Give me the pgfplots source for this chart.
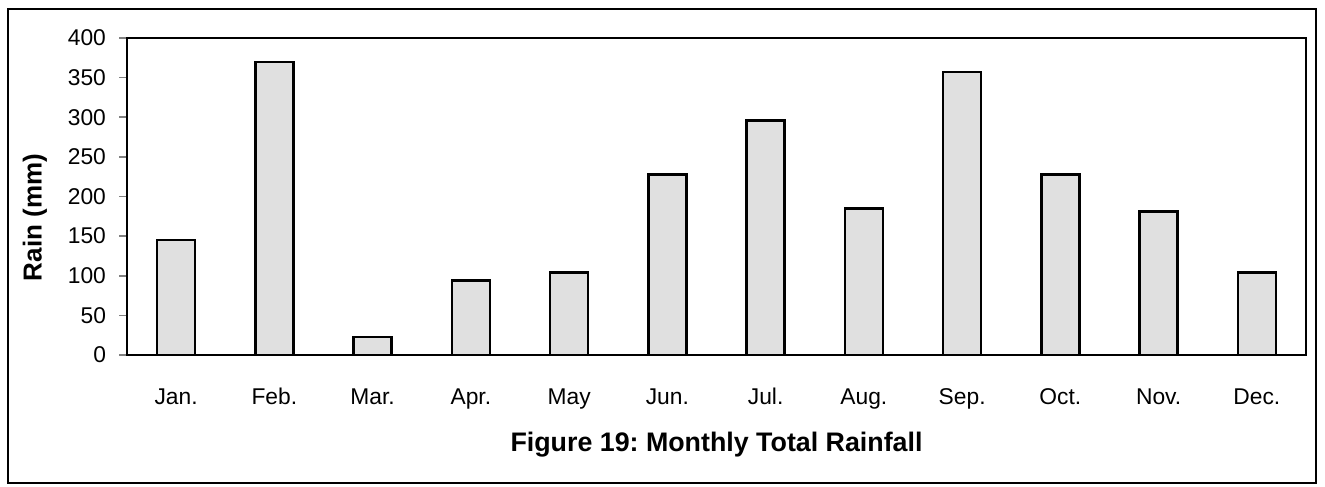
\documentclass[border=0pt]{standalone}
\usepackage{pgfplots}
\pgfplotsset{compat=1.18}
\usepackage{fontspec}
\setmainfont{Liberation Sans}
\definecolor{barfill}{HTML}{E0E0E0}
\begin{document}
\frenchspacing
\begin{tikzpicture}
\begin{axis}[
  name=ax,
  scale only axis,
  width=589.5pt, height=158.5pt,
  xmin=-0.5, xmax=11.5,
  ymin=0, ymax=400,
  ytick={0,50,...,400},
  xtick={0,...,11},
  xticklabels={Jan.,Feb.,Mar.,Apr.,May,Jun.,Jul.,Aug.,Sep.,Oct.,Nov.,Dec.},
  xtick style={draw=none},
  ytick style={line width=0.8pt},
  ytick pos=left,
  tick align=outside,
  major tick length=4pt,
  axis line style={line width=1.2pt},
  xticklabel style={font=\fontsize{11.4}{13}\selectfont, anchor=base, yshift=-20.5pt},
  yticklabel style={font=\fontsize{11.4}{13}\selectfont, xshift=-3pt},
  /pgf/number format/assume math mode=true,
  axis on top,
]
\addplot[ybar, bar width=0.387, fill=barfill, draw=black, line width=1.2pt] coordinates {
  (0,145) (1,370) (2,23) (3,94) (4,104) (5,228) (6,296) (7,185) (8,357) (9,228) (10,181) (11,104)
};
\end{axis}
\node[rotate=90, font=\fontsize{13}{15}\selectfont\bfseries] at ([xshift=-46pt,yshift=68.75pt]ax.south west) {Rain (mm)};
\node[font=\fontsize{13.4}{15}\selectfont\bfseries] at ([yshift=-45pt]ax.south) {Figure 19: Monthly Total Rainfall};
\draw[line width=1pt] ([xshift=-59.5pt,yshift=-63.75pt]ax.south west) rectangle ([xshift=5pt,yshift=14.5pt]ax.north east);
\path ([xshift=-63.5pt,yshift=-65.75pt]ax.south west) rectangle ([xshift=9.5pt,yshift=19pt]ax.north east);
\end{tikzpicture}
\end{document}
